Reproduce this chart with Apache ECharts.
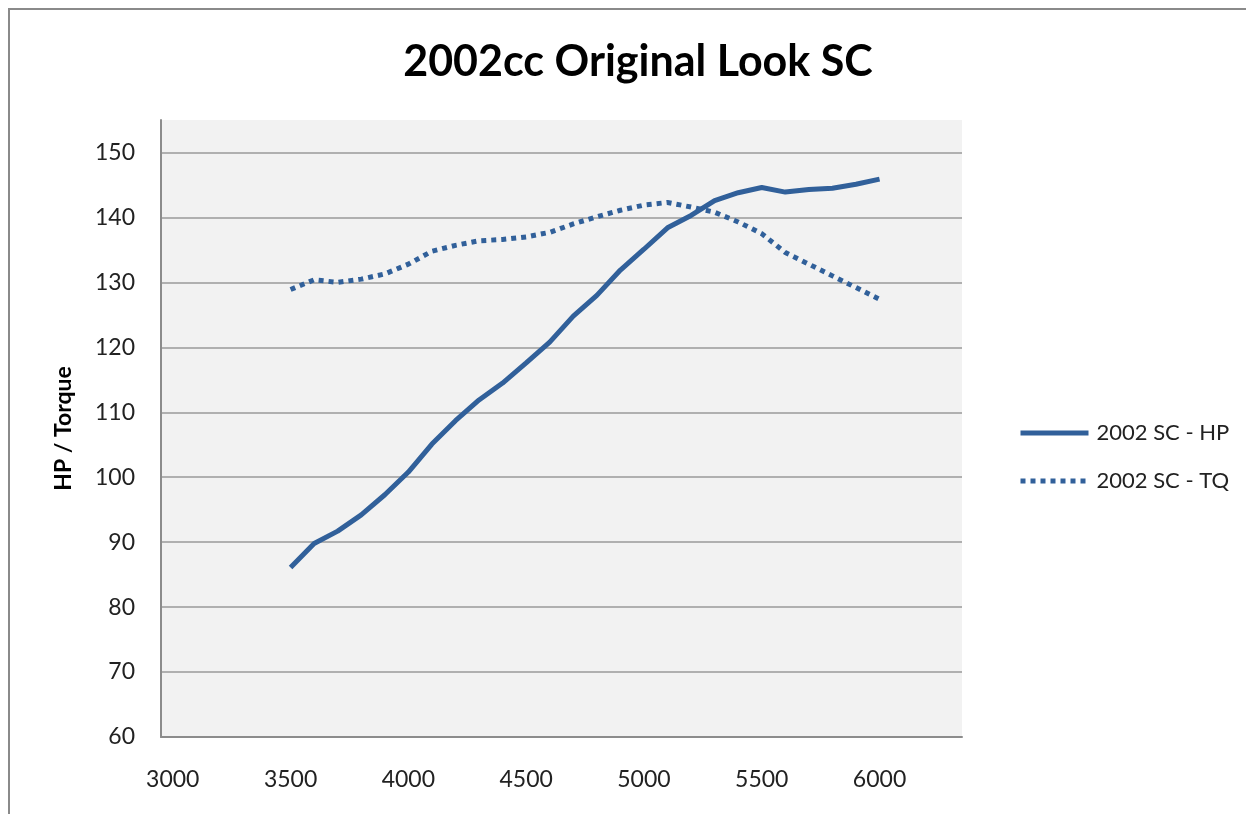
<!DOCTYPE html>
<html>
<head>
<meta charset="utf-8">
<title>2002cc Original Look SC</title>
<script src="https://cdn.jsdelivr.net/npm/echarts@6/dist/echarts.min.js"></script>
<style>
  html, body { margin: 0; padding: 0; background: #fff; }
  #myChart { width: 1246px; height: 814px; }
</style>
</head>
<body>
<div id="myChart"></div>
<script>
// rpm categories (Excel line chart, labels every 500)
const rpm = [3000, 3100, 3200, 3300, 3400, 3500, 3600, 3700, 3800, 3900,
  4000, 4100, 4200, 4300, 4400, 4500, 4600, 4700, 4800, 4900,
  5000, 5100, 5200, 5300, 5400, 5500, 5600, 5700, 5800, 5900,
  6000, 6100, 6200, 6300];

// HP, 3500 -> 6000
const hpData = [null, null, null, null, null,
  86.1, 89.8, 91.7, 94.2, 97.3, 100.8, 105.1, 108.7, 111.9, 114.5,
  117.6, 120.8, 124.8, 128.0, 131.9, 135.1, 138.4, 140.3, 142.6, 143.8,
  144.6, 143.9, 144.3, 144.5, 145.1, 145.9,
  null, null, null];

// torque, 3500 -> 6000
const tqData = [null, null, null, null, null,
  128.9, 130.4, 130.0, 130.5, 131.3, 132.8, 134.8, 135.7, 136.4, 136.6,
  137.0, 137.7, 139.0, 140.1, 141.1, 141.9, 142.3, 141.6, 140.8, 139.3,
  137.5, 134.6, 132.8, 131.0, 129.2, 127.4,
  null, null, null];

const yMin = 60;
const yMax = 155;
const yStep = 10;

const lineColor = '#31609a';
const fontFamily = 'Lato, "Open Sans", sans-serif';

let myChart = echarts.init(document.getElementById('myChart'));
myChart.setOption({
  backgroundColor: '#fff',
  animation: false,
  textStyle: { fontFamily: fontFamily },
  title: {
    text: '2002cc Original Look SC',
    left: 633,
    top: 36,
    textAlign: 'center',
    textStyle: {
      fontFamily: fontFamily,
      fontSize: 43,
      fontWeight: 'bold',
      color: '#000'
    }
  },
  // chart border (top + left only, the rest is cropped off)
  graphic: [{
    type: 'rect',
    shape: { x: 9, y: 9, width: 1400, height: 1000 },
    style: { fill: 'none', stroke: '#8a8a8a', lineWidth: 2 },
    silent: true
  }],
  legend: {
    orient: 'vertical',
    left: 1018,
    top: 421,
    padding: 0,
    itemWidth: 68,
    itemHeight: 14,
    itemGap: 24,
    itemStyle: { opacity: 0 },
    lineStyle: { width: 5 },
    textStyle: {
      fontFamily: fontFamily,
      fontSize: 22,
      lineHeight: 24,
      color: '#222',
      padding: [0, 0, 0, 3]
    },
    data: ['2002 SC - HP', '2002 SC - TQ']
  },
  grid: {
    left: 161,
    right: 284,
    top: 120,
    bottom: 77,
    show: true,
    backgroundColor: '#f2f2f2',
    borderWidth: 0
  },
  xAxis: {
    type: 'category',
    data: rpm,
    boundaryGap: true,
    axisLine: { lineStyle: { color: '#8c8c8c', width: 2 } },
    axisTick: { show: false },
    axisLabel: {
      interval: 4,
      margin: 31,
      fontSize: 23,
      color: '#222',
      fontFamily: fontFamily
    },
    splitLine: { show: false }
  },
  yAxis: {
    type: 'value',
    min: yMin,
    max: yMax,
    interval: yStep,
    name: 'HP / Torque',
    nameLocation: 'middle',
    nameGap: 86,
    nameTextStyle: {
      fontFamily: fontFamily,
      fontSize: 23,
      fontWeight: 'bold',
      color: '#000'
    },
    axisLine: { show: true, lineStyle: { color: '#8c8c8c', width: 2 } },
    axisTick: { show: false },
    axisLabel: {
      showMaxLabel: false,
      margin: 26,
      fontSize: 23,
      color: '#222',
      fontFamily: fontFamily
    },
    splitLine: {
      show: true,
      showMinLine: false,
      showMaxLine: false,
      lineStyle: { color: '#9a9a9a', width: 1.5 }
    }
  },
  series: [
    {
      name: '2002 SC - HP',
      type: 'line',
      data: hpData,
      symbol: 'none',
      color: lineColor,
      lineStyle: { width: 5, color: lineColor }
    },
    {
      name: '2002 SC - TQ',
      type: 'line',
      data: tqData,
      symbol: 'none',
      color: lineColor,
      lineStyle: { width: 5, color: lineColor, type: [5, 5], cap: 'butt' }
    }
  ]
});
</script>
</body>
</html>
